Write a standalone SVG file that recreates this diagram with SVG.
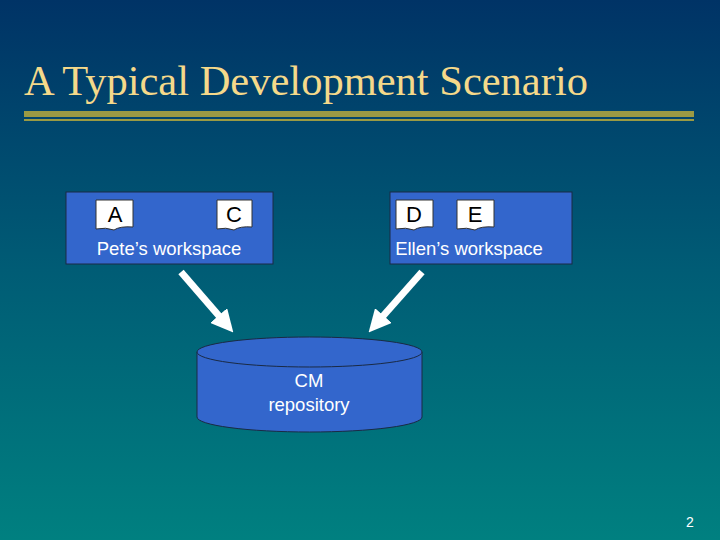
<svg xmlns="http://www.w3.org/2000/svg" width="720" height="540" viewBox="0 0 720 540">
<defs>
<linearGradient id="bg" x1="0" y1="0" x2="0" y2="1">
<stop offset="0" stop-color="#003366"/><stop offset="0.5" stop-color="#005c75"/><stop offset="1" stop-color="#008080"/>
</linearGradient>
<marker id="ah" viewBox="0 0 10 10" refX="5" refY="5" markerWidth="3.2" markerHeight="3.2" orient="auto" markerUnits="strokeWidth"><path d="M0,0 L10,5 L0,10 z" fill="#fff"/></marker>
</defs>
<style>
.box{fill:#3366cc;stroke:#1a2a44;stroke-width:1}
.doc{fill:#fff;stroke:#333;stroke-width:1}
.dt{font-family:"Liberation Sans",Arial,sans-serif;font-size:22px;fill:#000;text-anchor:middle}
.lbl{font-family:"Liberation Sans",Arial,sans-serif;font-size:18.5px;fill:#fff;text-anchor:middle}
.arr{stroke:#fff;stroke-width:7;fill:none;marker-end:url(#ah)}
</style>
<rect width="720" height="540" fill="url(#bg)"/>
<text x="24" y="95" font-family="Liberation Serif,serif" font-size="42.5" fill="#f5d98a">A Typical Development Scenario</text>
<rect x="24" y="111" width="670" height="6" fill="#9a9a44"/>
<rect x="24" y="119" width="670" height="2" fill="#9a9a44"/>
<g id="pete">
<rect class="box" x="66" y="192" width="207" height="72"/>
<path class="doc" d="M96,200 H133 V227 Q120,226 114,230 Q106,227 96,229 Z"/>
<text class="dt" x="115" y="222">A</text>
<path class="doc" d="M217,200 H252 V227 Q240,226 234,230 Q226,227 217,229 Z"/>
<text class="dt" x="234" y="222">C</text>
<text class="lbl" x="169" y="255">Pete’s workspace</text>
</g>
<g id="ellen">
<rect class="box" x="390" y="192" width="182" height="72"/>
<path class="doc" d="M396,200 H433 V227 Q420,226 414,230 Q406,227 396,229 Z"/>
<text class="dt" x="414" y="222">D</text>
<path class="doc" d="M457,200 H494 V227 Q481,226 475,230 Q467,227 457,229 Z"/>
<text class="dt" x="475" y="222">E</text>
<text class="lbl" x="469" y="255">Ellen’s workspace</text>
</g>
<g id="repo">
<path class="box" d="M197,352 V417 A112.5,15 0 0 0 422,417 V352"/>
<ellipse class="box" cx="309.5" cy="352" rx="112.5" ry="15"/>
<text class="lbl" x="309" y="387">CM</text>
<text class="lbl" x="309" y="411">repository</text>
</g>
<g id="connectors">
<line class="arr" x1="181" y1="272" x2="226" y2="324"/>
<line class="arr" x1="422" y1="272" x2="376" y2="324"/>
</g>
<text x="690" y="527" font-family="Liberation Sans,sans-serif" font-size="14" fill="#fff" text-anchor="middle">2</text>
</svg>
